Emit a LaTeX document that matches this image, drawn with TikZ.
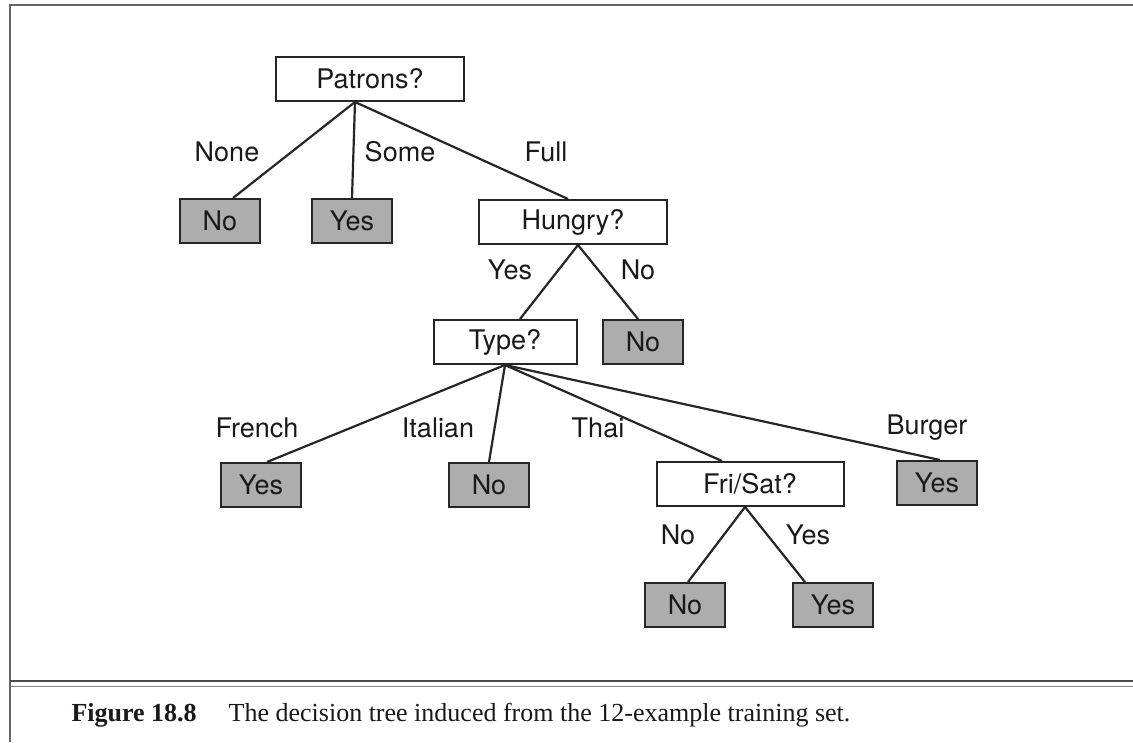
\documentclass[tikz,border=0pt]{standalone}
\usepackage{fontspec}
\setmainfont{Liberation Serif}
\newfontfamily\treefont{TeX Gyre Heros}
\begin{document}
\begin{tikzpicture}[x=1pt,y=-1pt,
  every node/.style={font=\treefont\fontsize{27}{30}\selectfont,text=black!90},
  test/.style={draw=black!85,line width=2pt,fill=white,minimum height=44pt,inner sep=0pt},
  leaf/.style={draw=black!85,line width=2pt,fill=black!32,minimum width=80pt,minimum height=44pt,inner sep=0pt},
  branch/.style={draw=black!85,line width=2.2pt}]

\useasboundingbox (0,0) rectangle (1133,742);

% frame
\draw [black!60,line width=2pt] (10,742) -- (10,5) -- (1133,5);
\draw [black!70,line width=2pt] (10,681) -- (1133,681);
\draw [black!50,line width=1pt] (10,686) -- (1133,686);

% tests
\node [test,minimum width=188pt] at (370,79) (patrons) {Patrons?};
\node [test,minimum width=188pt] at (573,222) (hungry) {Hungry?};
\node [test,minimum width=143pt] at (505,342) (type) {Type?};
\node [test,minimum width=187pt] at (750,484) (frisat) {Fri/Sat?};

% leaves
\node [leaf] at (220,221) (noneleaf) {No};
\node [leaf] at (352,221) (someleaf) {Yes};
\node [leaf] at (643,342) (hungryno) {No};
\node [leaf] at (261,485) (french) {Yes};
\node [leaf] at (489,485) (italian) {No};
\node [leaf] at (937,483) (burger) {Yes};
\node [leaf] at (685,605) (frino) {No};
\node [leaf] at (833,605) (friyes) {Yes};

% branches
\draw [branch] ([xshift=-15pt]patrons.south) -- ([xshift=13pt]noneleaf.north);
\draw [branch] ([xshift=-15pt]patrons.south) -- (someleaf.north);
\draw [branch] ([xshift=-15pt]patrons.south) -- ([xshift=-5pt]hungry.north);
\draw [branch] ([xshift=5pt]hungry.south) -- ([xshift=15pt]type.north);
\draw [branch] ([xshift=5pt]hungry.south) -- ([xshift=-5pt]hungryno.north);
\draw [branch] (type.south) -- ([xshift=6pt]french.north);
\draw [branch] (type.south) -- (italian.north);
\draw [branch] (type.south) -- ([xshift=-28pt]frisat.north);
\draw [branch] (type.south) -- ([xshift=3pt]burger.north);
\draw [branch] ([xshift=-5pt]frisat.south) -- ([xshift=3pt]frino.north);
\draw [branch] ([xshift=-5pt]frisat.south) -- ([xshift=-28pt]friyes.north);

% branch labels
\node at (227,152) (lnone) {None};
\node at (400,152) (lsome) {Some};
\node at (546,152) (lfull) {Full};
\node at (510,270) (lhyes) {Yes};
\node at (638,270) (lhno) {No};
\node at (257,428) (lfrench) {French};
\node at (438,428) (litalian) {Italian};
\node at (598,428) (lthai) {Thai};
\node at (927,428) (lburger) {Burger};
\node at (678,535) (lfno) {No};
\node at (808,535) (lfyes) {Yes};

% caption
\node [anchor=west,font=\rmfamily\fontsize{26}{30}\selectfont] at (68,715) (caption)
  {\textbf{Figure 18.8}\hspace{32pt}The decision tree induced from the 12-example training set.};

\end{tikzpicture}
\end{document}
